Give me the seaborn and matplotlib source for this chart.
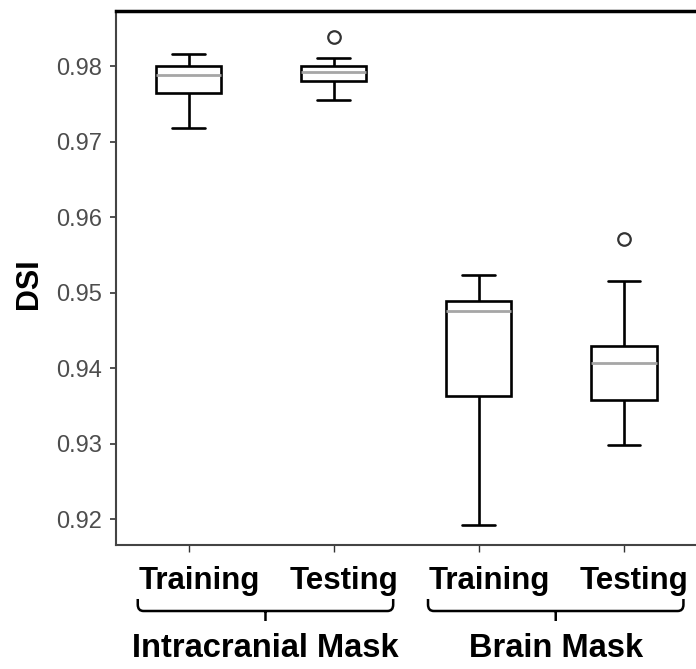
import matplotlib
matplotlib.use("Agg")
import matplotlib.pyplot as plt
from matplotlib.path import Path
from matplotlib.patches import PathPatch
from matplotlib.transforms import blended_transform_factory
import seaborn as sns
import pandas as pd

# DSI observations per mask / split
ic_training = [0.9719, 0.9765, 0.9788, 0.9801, 0.9816]
ic_testing = [0.9755, 0.9772, 0.9780, 0.9786, 0.9792, 0.9797, 0.9801, 0.9811, 0.9839]
bm_training = [0.9192, 0.9364, 0.9476, 0.9489, 0.9524]
bm_testing = [0.9299, 0.9330, 0.9358, 0.9385, 0.9407, 0.9420, 0.9430, 0.9516, 0.9572]

splits = ["Training", "Testing", "Training", "Testing"]
groups = ["Intracranial Mask", "Brain Mask"]
order = ["IC Training", "IC Testing", "BM Training", "BM Testing"]
series = [ic_training, ic_testing, bm_training, bm_testing]

y_ticks = [0.92, 0.93, 0.94, 0.95, 0.96, 0.97, 0.98]

df = pd.DataFrame(
    [(key, v) for key, vals in zip(order, series) for v in vals],
    columns=["cond", "dsi"],
)

sns.set_style("ticks")
plt.rcParams["font.family"] = ["Liberation Sans", "DejaVu Sans"]

fig = plt.figure(figsize=(6.96, 6.69), dpi=100)
ax = fig.add_axes([116 / 696, 1 - 545 / 669, 580.5 / 696, 534 / 669])

sns.boxplot(
    data=df, x="cond", y="dsi", order=order, ax=ax,
    width=0.45, color="white", linecolor="black", linewidth=1.9,
    medianprops=dict(color="#a6a6a6", linewidth=2.0),
    flierprops=dict(marker="o", markersize=9, markerfacecolor="white",
                    markeredgecolor="#333333", markeredgewidth=1.6),
)

ax.set_xlim(-0.5, 3.5)
ax.set_ylim(0.91661, 0.98733)
ax.set_yticks(y_ticks)
ax.set_yticklabels([f"{t:.2f}" for t in y_ticks])
ax.set_xticks(range(len(order)))
ax.set_xticklabels([])
ax.set_xlabel("")

ax.set_ylabel("DSI", fontsize=22, fontweight="bold", color="black", va="center")
ax.yaxis.set_label_coords(-0.15, 0.49)

ax.tick_params(axis="y", length=4.3, width=1.2, color="#333333",
               labelsize=17, labelcolor="#4d4d4d", pad=5.5)
ax.tick_params(axis="x", length=5, width=1.0, color="#333333")

for side in ["left", "bottom"]:
    ax.spines[side].set_color("#444444")
    ax.spines[side].set_linewidth(1.5)
ax.spines["top"].set_color("black")
ax.spines["top"].set_linewidth(2.5)
ax.spines["right"].set_color("#cccccc")
ax.spines["right"].set_linewidth(1.0)

trans = blended_transform_factory(ax.transData, ax.transAxes)

# split labels under each box
for i, lab in enumerate(splits):
    ax.annotate(lab, xy=(i, -0.083), xycoords=trans, xytext=(7.5, 0),
                textcoords="offset points", ha="center", va="baseline",
                fontsize=22.5, fontweight="bold", color="black",
                annotation_clip=False)

# curly-ish brackets grouping the splits, with group names underneath
y_bar, y_hook, y_stem = -0.1236, -0.1011, -0.1423
half = 0.88
shift = 0.03
r = 0.04   # corner rounding in data units (x)
ry = 0.012  # corner rounding in axes units (y)
for g, name in enumerate(groups):
    c = (2 * g + 2 * g + 1) / 2 + shift
    x0, x1 = c - half, c + half
    verts = [(x0, y_hook), (x0, y_bar + ry), (x0, y_bar), (x0 + r, y_bar),
             (x1 - r, y_bar), (x1, y_bar), (x1, y_bar + ry), (x1, y_hook),
             (c, y_bar), (c, y_stem)]
    codes = [Path.MOVETO, Path.LINETO, Path.CURVE3, Path.CURVE3,
             Path.LINETO, Path.CURVE3, Path.CURVE3, Path.LINETO,
             Path.MOVETO, Path.LINETO]
    ax.add_patch(PathPatch(Path(verts, codes), transform=trans, fill=False,
                           edgecolor="black", lw=1.8, clip_on=False,
                           capstyle="butt"))
    ax.text(c, -0.2097, name, transform=trans,
            ha="center", va="baseline", fontsize=23.5, fontweight="bold",
            color="black")

fig.savefig("out.png", dpi=100)
